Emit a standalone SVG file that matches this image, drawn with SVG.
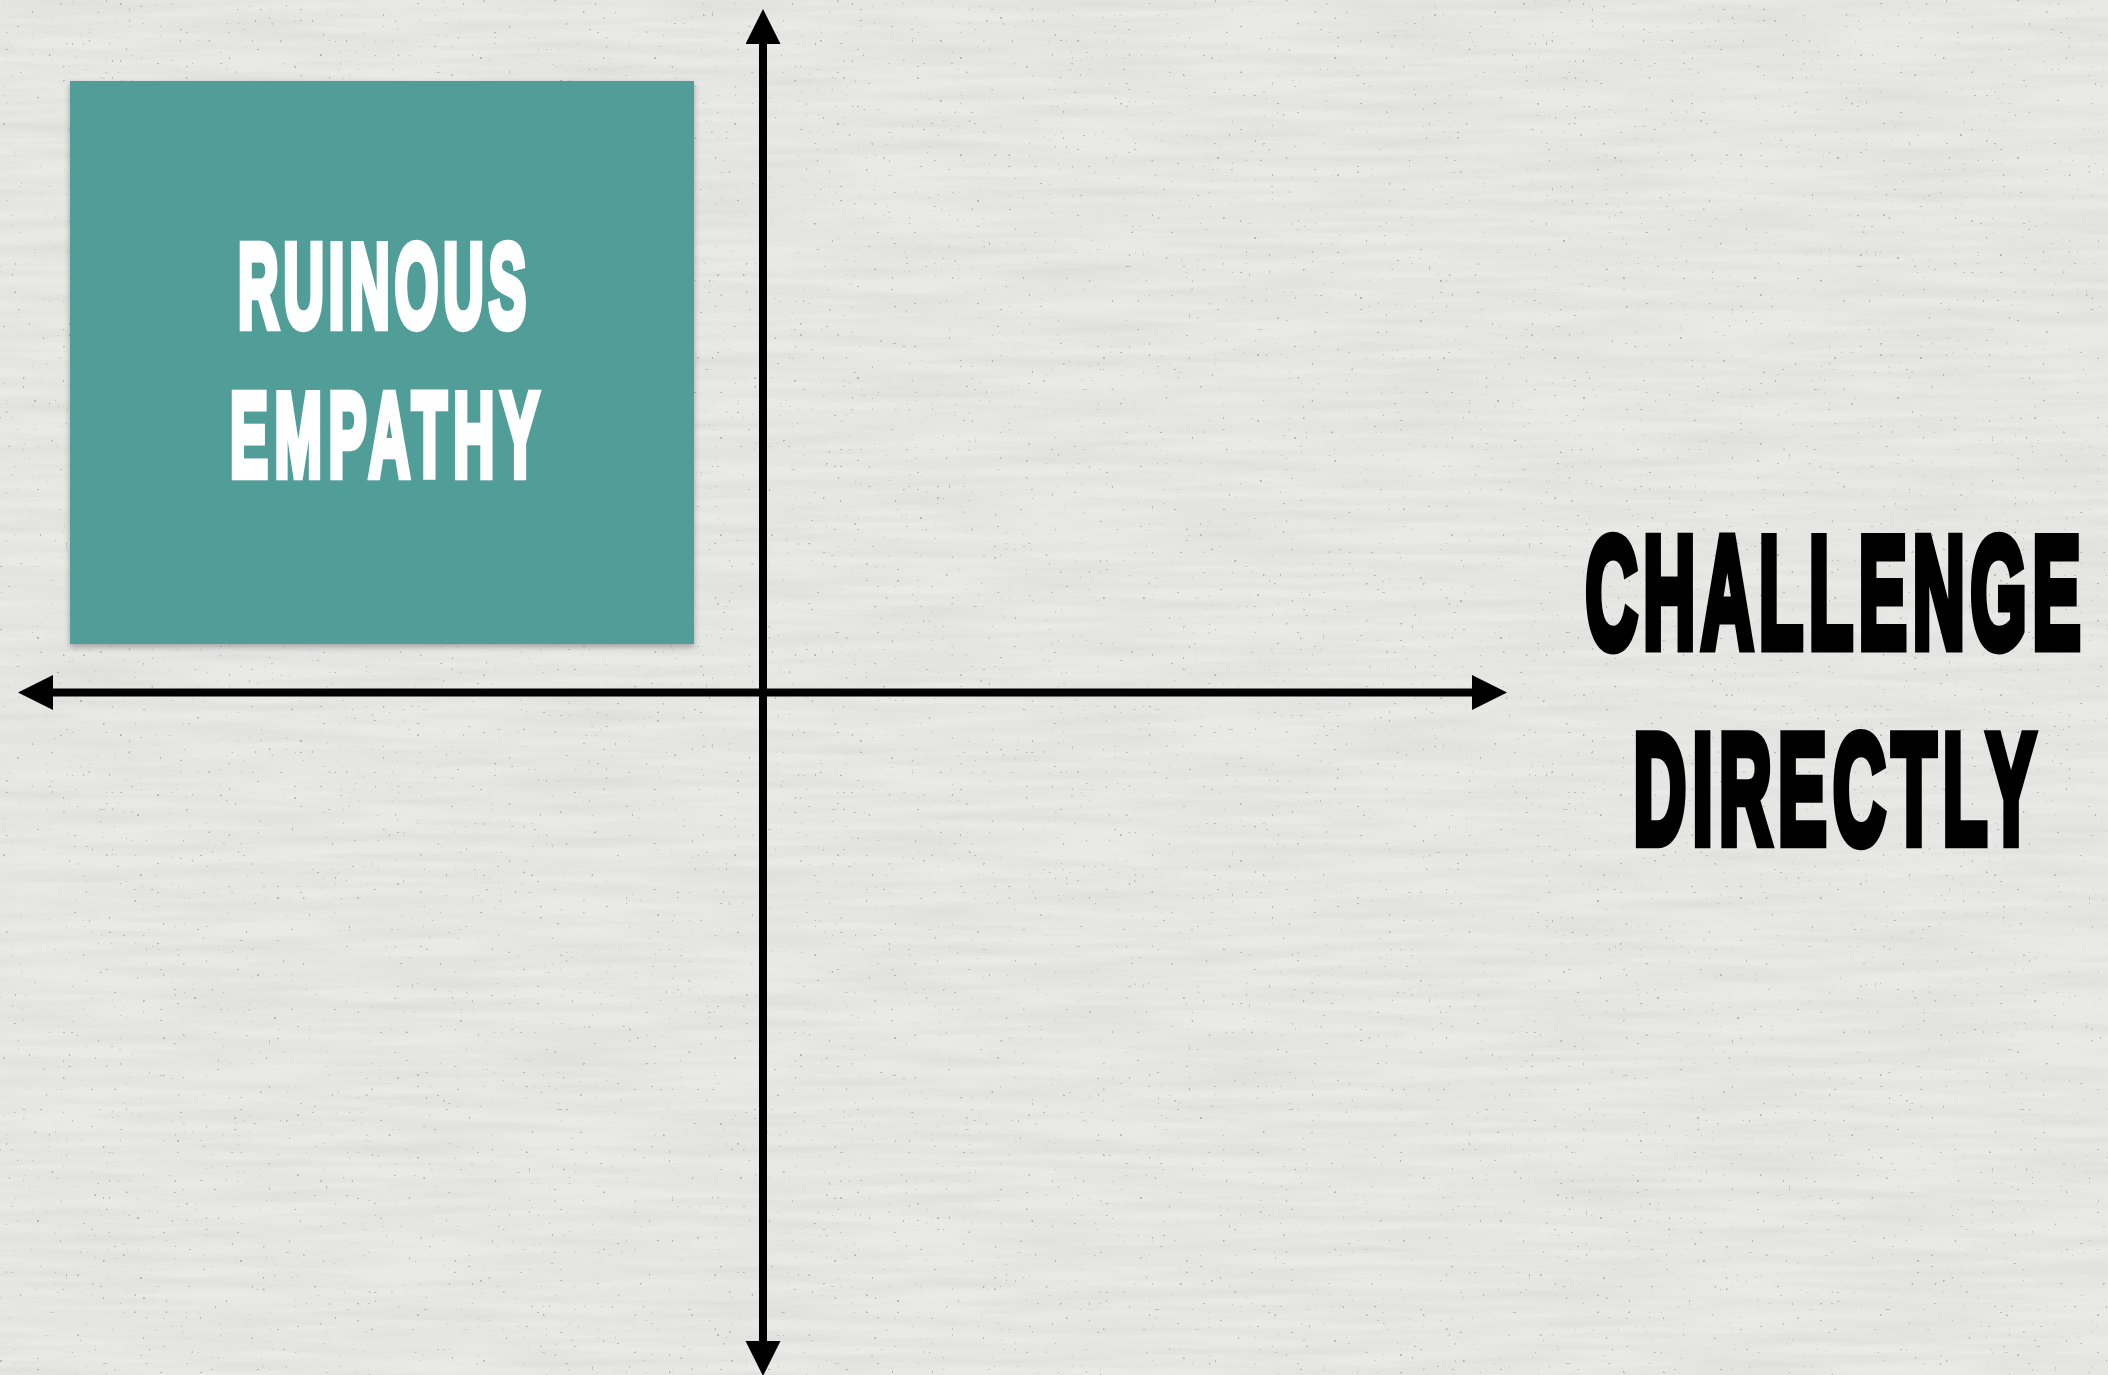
<svg xmlns="http://www.w3.org/2000/svg" width="2108" height="1375" viewBox="0 0 2108 1375">
  <style>
    .label { font-family: "Liberation Sans", Arial, sans-serif; font-weight: bold; text-anchor: middle; stroke-linejoin: miter; }
    .white { fill: #ffffff; stroke: #ffffff; stroke-width: 4; }
    .black { fill: #000000; stroke: #000000; stroke-width: 5; }
    .axis { stroke: #000000; stroke-width: 8; fill: none; }
  </style>
  <defs>
    <marker id="arrow" markerUnits="userSpaceOnUse" markerWidth="36" markerHeight="36" refX="1" refY="17.5" orient="auto-start-reverse" viewBox="0 0 36 36">
      <path d="M0,0 L35,17.5 L0,35 Z" fill="#000000"/>
    </marker>
    <filter id="paper" x="0" y="0" width="100%" height="100%">
      <feTurbulence type="fractalNoise" baseFrequency="0.006 0.09" numOctaves="3" seed="4" result="n"/>
      <feColorMatrix in="n" type="matrix" values="0 0 0 0 0.55  0 0 0 0 0.55  0 0 0 0 0.55  0 0 0 -1.1 0.75" result="g"/>
      <feComposite in="g" in2="SourceGraphic" operator="over"/>
    </filter>
    <filter id="specks" x="0" y="0" width="100%" height="100%">
      <feTurbulence type="fractalNoise" baseFrequency="0.35" numOctaves="1" seed="11" result="t"/>
      <feColorMatrix in="t" type="matrix" values="0 0 0 0 0.3  0 0 0 0 0.3  0 0 0 0 0.3  30 0 0 0 -22"/>
    </filter>
    <filter id="shadow" x="-5%" y="-5%" width="110%" height="112%">
      <feDropShadow dx="0" dy="3" stdDeviation="3" flood-color="#000000" flood-opacity="0.3"/>
    </filter>
  </defs>
  <rect x="0" y="0" width="2108" height="1375" fill="#e9e9e8"/>
  <rect x="0" y="0" width="2108" height="1375" fill="#e9e9e8" filter="url(#paper)" opacity="0.45"/>
  <rect x="0" y="0" width="2108" height="1375" fill="#000000" filter="url(#specks)" opacity="0.6"/>
  <g id="connectors">
    <line id="axis-vertical" class="axis" x1="763" y1="43" x2="763" y2="1342" marker-start="url(#arrow)" marker-end="url(#arrow)"/>
    <line id="axis-horizontal" class="axis" x1="52" y1="692.5" x2="1473" y2="692.5" marker-start="url(#arrow)" marker-end="url(#arrow)"/>
  </g>
  <g id="node-ruinous-empathy">
    <rect x="70" y="81" width="624" height="563" fill="#519e98" filter="url(#shadow)"/>
    <text class="label white" transform="translate(382,326.8) scale(1,2.11)" font-size="56" textLength="288" lengthAdjust="spacing">RUINOUS</text>
    <text class="label white" transform="translate(384.5,475.8) scale(1,2.076)" font-size="57" textLength="309" lengthAdjust="spacing">EMPATHY</text>
  </g>
  <g id="node-challenge-directly">
    <text class="label black" transform="translate(1833,646.5) scale(1,2.19)" font-size="72" textLength="495" lengthAdjust="spacing">CHALLENGE</text>
    <text class="label black" transform="translate(1834.5,842.7) scale(1,2.13)" font-size="73" textLength="402" lengthAdjust="spacing">DIRECTLY</text>
  </g>
</svg>
